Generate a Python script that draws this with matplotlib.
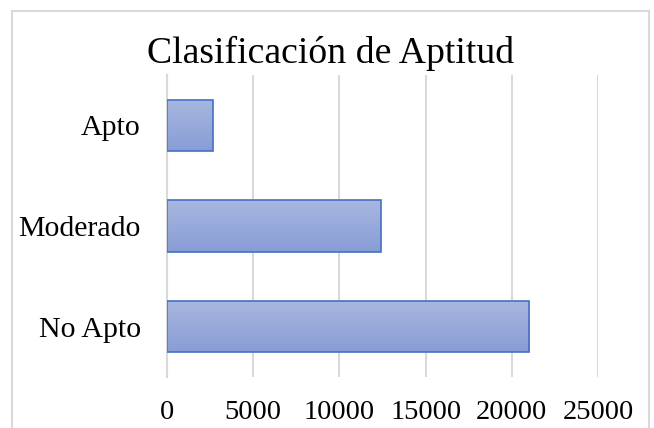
import numpy as np
import matplotlib.pyplot as plt
from matplotlib.patches import Rectangle
from matplotlib.colors import LinearSegmentedColormap

categories = ["No Apto", "Moderado", "Apto"]
values = [21000, 12400, 2650]
xticks = [0, 5000, 10000, 15000, 20000, 25000]

plt.rcParams['font.family'] = ['Liberation Serif', 'DejaVu Serif']

fig = plt.figure(figsize=(6.54, 4.28), dpi=100)
# chart frame, running off the bottom edge as in the source image
fig.patches.append(Rectangle((0.018, -0.05), 0.974, 1.024, transform=fig.transFigure,
                             facecolor="none", edgecolor="#d9d9d9", linewidth=1.5))

ax = fig.add_axes([0.2554, 0.1192, 0.659, 0.7056])
ax.set_facecolor("none")
bars = ax.barh(categories, values, height=0.51, color="none", edgecolor="#4472c4", linewidth=1.2, zorder=3)

# light (top) to darker (bottom) gradient inside each bar
grad = LinearSegmentedColormap.from_list("bar", ["#889dd6", "#a8b7e0"])
for b in bars:
    x0, y0 = b.get_x(), b.get_y()
    im = ax.imshow(np.linspace(0, 1, 50).reshape(-1, 1), cmap=grad, aspect="auto",
                   extent=(x0, x0 + b.get_width(), y0 + b.get_height(), y0),
                   origin="upper", zorder=2)
    im.set_clip_path(b)

ax.set_xlim(0, 25000)
ax.set_ylim(-0.5, 2.5)
ax.set_xticks(xticks)
ax.xaxis.grid(True, color="#d9d9d9", linewidth=1.5, zorder=0)
for s in ["top", "right", "bottom"]:
    ax.spines[s].set_visible(False)
ax.spines["left"].set_color("#d9d9d9")
ax.spines["left"].set_linewidth(1.5)
ax.tick_params(axis="both", length=0, colors="black")
ax.tick_params(axis="x", pad=16.5, labelsize=20.5)
ax.tick_params(axis="y", pad=19, labelsize=21.5)

fig.text(0.506, 1 - 63 / 428, "Clasificación de Aptitud", ha="center", va="baseline", fontsize=27.2)

fig.savefig("out.png", dpi=100)
